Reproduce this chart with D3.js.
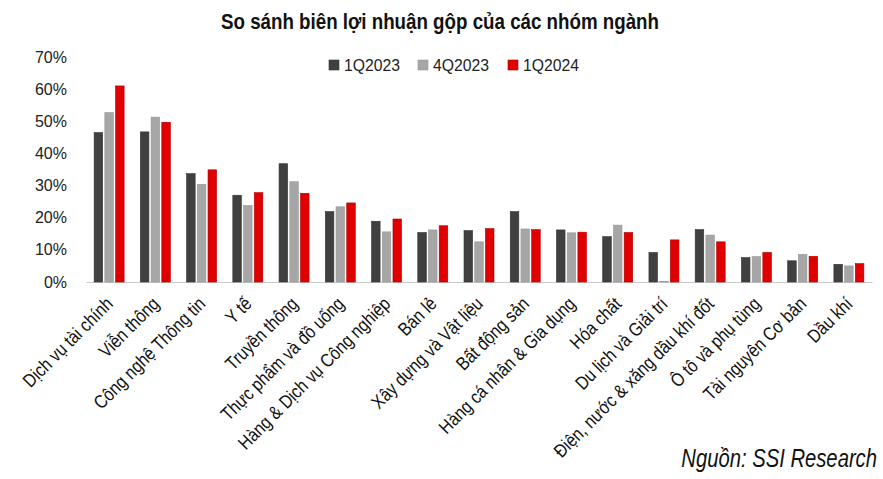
<!DOCTYPE html>
<html><head><meta charset="utf-8">
<script src="https://cdn.jsdelivr.net/npm/d3@7"></script>
<style>body{margin:0;background:#fff}svg{display:block}</style>
</head><body><svg id="c" width="883" height="479"></svg>
<script>
const categories = ["Dịch vụ tài chính","Viễn thông","Công nghệ Thông tin","Y tế","Truyền thông","Thực phẩm và đồ uống","Hàng & Dịch vụ Công nghiệp","Bán lẻ","Xây dựng và Vật liệu","Bất động sản","Hàng cá nhân & Gia dụng","Hóa chất","Du lịch và Giải trí","Điện, nước & xăng dầu khí đốt","Ô tô và phụ tùng","Tài nguyên Cơ bản","Dầu khí"];
const seriesNames = ["1Q2023","4Q2023","1Q2024"];
const q1_2023 = [46.5,46.7,33.7,27.0,36.8,21.9,18.9,15.4,16.0,21.9,16.2,14.1,9.2,16.3,7.6,6.6,5.5];
const q4_2023 = [52.7,51.3,30.4,23.8,31.2,23.4,15.6,16.2,12.5,16.5,15.3,17.7,0.2,14.6,7.9,8.6,5.0];
const q1_2024 = [61.0,49.7,34.9,27.8,27.6,24.6,19.6,17.5,16.6,16.3,15.5,15.4,13.1,12.5,9.2,8.0,5.7];
const yTicks = [0,10,20,30,40,50,60,70];
const title = "So sánh biên lợi nhuận gộp của các nhóm ngành";
const source = "Nguồn: SSI Research";

const colors = ["#404040","#a6a6a6","#e00000"];
const strokes = ["#333","#999","#b00000"];
const series = [q1_2023,q4_2023,q1_2024];

const svg = d3.select("#c");
const reg = "'Liberation Sans',Arial,sans-serif";

const x0 = d3.scaleBand().domain(categories).range([86,872]).paddingInner(0).paddingOuter(0);
const x1 = d3.scaleBand().domain(seriesNames).range([0,30]).paddingInner(0.2);
const y = d3.scaleLinear().domain([0,70]).range([282,57]);

svg.append("text").attr("x",440).attr("y",29).attr("text-anchor","middle")
  .attr("font-family",reg).attr("font-weight","bold").attr("font-size",22.5)
  .attr("textLength",438).attr("lengthAdjust","spacingAndGlyphs").attr("fill","#111").text(title);

// y axis
const ya = svg.append("g").attr("transform","translate(67,0)")
  .call(d3.axisLeft(y).tickValues(yTicks).tickFormat(d=>d+"%").tickSize(0).tickPadding(0));
ya.select(".domain").remove();
ya.selectAll("text").attr("font-family",reg).attr("font-size",16).attr("fill","#222").attr("dy","0.32em");

// baseline
const xa = svg.append("g").attr("transform","translate(0,282)")
  .call(d3.axisBottom(x0).tickSize(0).tickSizeOuter(0).tickFormat(""));
xa.select(".domain").attr("stroke","#c8c8c8").attr("stroke-width",1.2);

// bars
const groups = svg.append("g").selectAll("g").data(categories).join("g")
  .attr("transform",d=>`translate(${x0(d)+x0.bandwidth()/2-15},0)`);
groups.selectAll("rect").data((d,i)=>seriesNames.map((s,k)=>({s,k,v:series[k][i]}))).join("rect")
  .attr("x",d=>x1(d.s)).attr("width",x1.bandwidth())
  .attr("y",d=>y(d.v)).attr("height",d=>y(0)-y(d.v))
  .attr("fill",d=>colors[d.k]).attr("stroke",d=>strokes[d.k]).attr("stroke-width",0.6);

// x labels (condensed look)
svg.append("g").selectAll("text").data(categories).join("text")
  .attr("transform",d=>`translate(${x0(d)+x0.bandwidth()/2+5},${305}) rotate(-45) scale(0.85,1)`)
  .attr("text-anchor","end").attr("font-family",reg).attr("font-size",18.8).attr("fill","#111")
  .text(d=>d);

// legend
const legX = [329,418,508];
const lg = svg.append("g").selectAll("g").data(seriesNames).join("g")
  .attr("transform",(d,i)=>`translate(${legX[i]},65)`);
lg.append("rect").attr("x",0).attr("y",-5).attr("width",10).attr("height",10)
  .attr("fill",(d,i)=>colors[i]).attr("stroke",(d,i)=>strokes[i]).attr("stroke-width",0.6);
lg.append("text").attr("x",15).attr("y",6).attr("font-family",reg).attr("font-size",16).attr("fill","#222")
  .attr("textLength",56).attr("lengthAdjust","spacingAndGlyphs").text(d=>d);

svg.append("text").attr("transform","translate(877,467) scale(0.81,1)").attr("text-anchor","end")
  .attr("font-family",reg).attr("font-style","italic").attr("font-size",25)
  .attr("fill","#111").text(source);
</script></body></html>
